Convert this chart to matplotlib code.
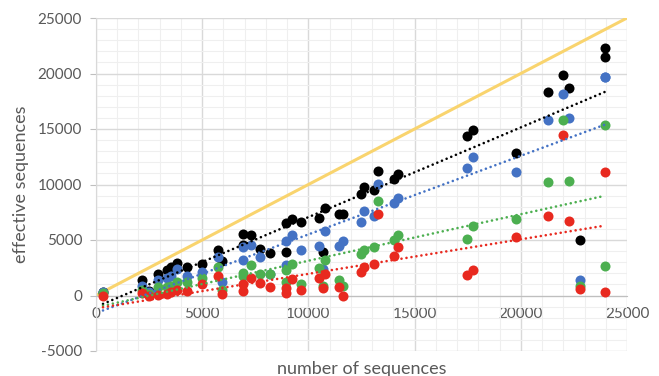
import numpy as np
import matplotlib
matplotlib.use("Agg")
from matplotlib import pyplot as plt
from matplotlib.ticker import MultipleLocator

# число последовательностей для каждой группы точек
x = [330, 2150, 2500, 2930, 3330, 3550, 3830, 4300, 5000, 5760, 5920, 6930, 6930,
     7300, 7720, 8190, 8950, 8950, 9210, 9630, 10510, 10800, 10700, 11450, 11640,
     12480, 12640, 13090, 13290, 14050, 14200, 17450, 17740, 19760, 21300, 21970,
     22270, 22790, 23960, 23960]

black = [300, 1420, 450, 1960, 2260, 2550, 2920, 2550, 2800, 4120, 3100, 5570, 4510,
         5480, 4210, 3850, 6530, 3910, 6920, 6620, 7010, 7880, 3910, 7310, 7370,
         9180, 9770, 9520, 11240, 10530, 10980, 14350, 14890, 12880, 18290, 19830,
         18650, 4960, 22265, 21450]
blue = [300, 900, 300, 1420, 1620, 1800, 2410, 1780, 2100, 3460, 1200, 4360, 3220,
        4510, 3460, 1900, 4900, 2710, 5415, 4060, 4450, 5780, 2410, 4420, 4870,
        6620, 7580, 7170, 10080, 8370, 8750, 11520, 12480, 11100, 15790, 18110,
        15950, 1415, 19700, 19650]
green = [200, 510, 150, 810, 810, 900, 1200, 1260, 1600, 2550, 510, 1800, 2000,
         2710, 1900, 1900, 2320, 1200, 2860, 1060, 2460, 3160, 900, 1420, 900,
         3760, 4120, 4360, 8530, 5025, 5415, 5050, 6290, 6890, 10230, 15790,
         10320, 900, 15340, 2645]
red = [0, 210, 0, 60, 150, 300, 510, 450, 1080, 1800, 100, 450, 1060,
       1560, 1110, 810, 700, 210, 1510, 510, 1600, 1960, 700, 810, 0,
       2100, 2550, 2860, 7370, 3550, 4330, 1870, 2320, 5260, 7160, 14440,
       6740, 600, 11160, 300]

# линия y = x
ideal_x = [0, 25000]
ideal_y = [0, 25000]

series = [(black, "#000000"), (blue, "#4472C4"), (green, "#4CAF50"), (red, "#E8291F")]

plt.rcParams['font.family'] = ['Lato', 'DejaVu Sans']
plt.rcParams['axes.unicode_minus'] = False
fig = plt.figure(figsize=(6.59, 3.76), dpi=100)
ax = fig.add_axes([96/659, 1-351/376, 531/659, 333/376])

ax.set_xlim(0, 25000)
ax.set_ylim(-5000, 25000)
ax.xaxis.set_major_locator(MultipleLocator(5000))
ax.xaxis.set_minor_locator(MultipleLocator(1000))
ax.yaxis.set_major_locator(MultipleLocator(5000))
ax.yaxis.set_minor_locator(MultipleLocator(1000))
ax.grid(True, which='major', color='#D9D9D9', lw=1.0, zorder=0)
ax.grid(True, which='minor', color='#EFEFEF', lw=0.8, zorder=0)
ax.set_axisbelow(True)

for s in ['top', 'right']:
    ax.spines[s].set_visible(False)
ax.spines['bottom'].set_position(('data', 0))
ax.spines['bottom'].set_color('#BFBFBF')
ax.spines['left'].set_color('#D9D9D9')
ax.tick_params(which='both', length=0, colors='#595959', labelsize=11)
ax.tick_params(axis='x', pad=8)
ax.tick_params(axis='y', which='major', length=4, color='#BFBFBF', pad=6)

ax.plot(ideal_x, ideal_y, color='#F9D46E', lw=2.2, zorder=2)

xs = np.array(x)
for vals, col in series:
    ax.scatter(xs, vals, s=52, color=col, zorder=3, linewidths=0)
for vals, col in series:
    k, b = np.polyfit(xs, vals, 1)
    tx = np.array([xs.min(), xs.max()])
    ax.plot(tx, k*tx + b, color=col, lw=1.9, linestyle=(0, (0.01, 1.9)),
            dash_capstyle='round', zorder=4)

ax.set_xlabel("number of sequences", fontsize=13, color='#595959')
ax.set_ylabel("effective sequences", fontsize=13, color='#595959', labelpad=6)
ax.xaxis.set_label_coords(0.5, -0.03)

fig.savefig("out.png", dpi=100)
